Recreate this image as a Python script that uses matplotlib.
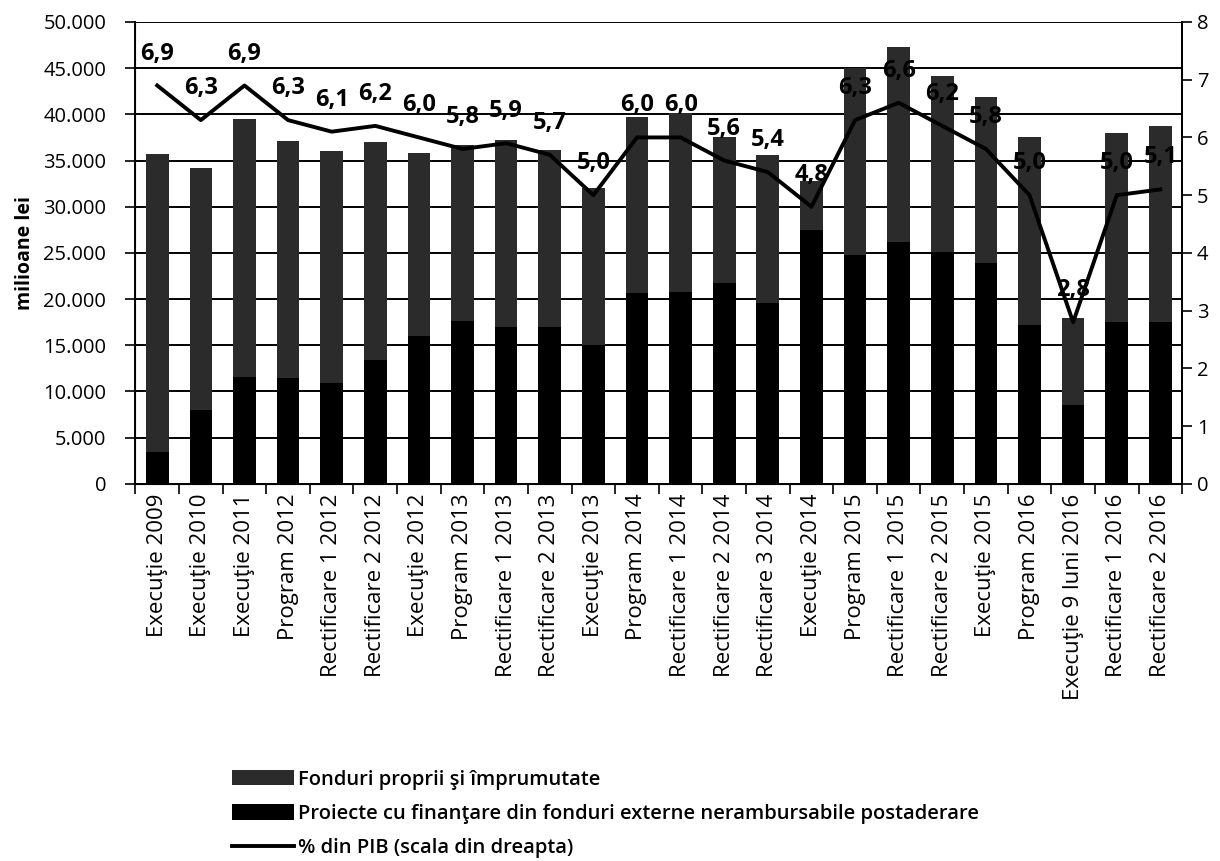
import matplotlib
matplotlib.use('Agg')
import matplotlib.pyplot as plt
from matplotlib.ticker import FuncFormatter
import numpy as np

plt.rcParams['font.family'] = ['Open Sans', 'DejaVu Sans']

categories = ['Execuţie 2009', 'Execuţie 2010', 'Execuţie 2011', 'Program 2012',
              'Rectificare 1 2012', 'Rectificare 2 2012', 'Execuţie 2012', 'Program 2013',
              'Rectificare 1 2013', 'Rectificare 2 2013', 'Execuţie 2013', 'Program 2014',
              'Rectificare 1 2014', 'Rectificare 2 2014', 'Rectificare 3 2014', 'Execuţie 2014',
              'Program 2015', 'Rectificare 1 2015', 'Rectificare 2 2015', 'Execuţie 2015',
              'Program 2016', 'Execuţie 9 luni 2016', 'Rectificare 1 2016', 'Rectificare 2 2016']

# milioane lei
proiecte_ue = [3400, 8000, 11600, 11500, 10900, 13400, 16000, 17600,
               17000, 17000, 15000, 20700, 20800, 21700, 19600, 27500,
               24800, 26200, 25100, 23900, 17200, 8500, 17500, 17500]
fonduri_proprii = [32300, 26200, 27900, 25600, 25100, 23600, 19800, 19100,
                   20200, 19100, 17000, 19000, 19300, 15900, 16000, 5300,
                   20200, 21100, 19000, 18000, 20400, 9500, 20500, 21200]
# % din PIB
pct_pib = [6.9, 6.3, 6.9, 6.3, 6.1, 6.2, 6.0, 5.8, 5.9, 5.7, 5.0, 6.0,
           6.0, 5.6, 5.4, 4.8, 6.3, 6.6, 6.2, 5.8, 5.0, 2.8, 5.0, 5.1]

x = np.arange(len(categories))

fig = plt.figure(figsize=(12.2, 8.61), dpi=100)
ax = fig.add_axes([0.111, 0.438, 0.858, 0.5365])

b1 = ax.bar(x, proiecte_ue, width=0.52, color='#000000', zorder=3,
            label='Proiecte cu finanţare din fonduri externe nerambursabile postaderare')
b2 = ax.bar(x, fonduri_proprii, width=0.52, bottom=proiecte_ue, color='#2b2b2b', zorder=3,
            label='Fonduri proprii şi împrumutate')

ax.set_xlim(-0.5, len(categories) - 0.5)
ax.set_ylim(0, 50000)
ax.set_yticks(range(0, 50001, 5000))
ax.yaxis.set_major_formatter(FuncFormatter(lambda v, p: '{:,.0f}'.format(v).replace(',', '.')))
ax.grid(axis='y', color='black', linewidth=1.4, zorder=0)
ax.set_axisbelow(True)
ax.set_xticks(x)
ax.set_xticklabels(categories, rotation=90, fontsize=16)
ax.set_xticks(np.arange(len(categories) + 1) - 0.5, minor=True)
ax.tick_params(axis='x', which='major', length=0, pad=7)
ax.tick_params(axis='x', which='minor', length=7, width=1.2, direction='out')
ax.tick_params(axis='y', labelsize=14.5, length=7, width=1.2, direction='out', pad=14)
ax.set_ylabel('milioane lei', fontsize=14, fontweight='bold', labelpad=6)
for s in ['left', 'bottom', 'right']:
    ax.spines[s].set_linewidth(1.4)
ax.spines['top'].set_visible(False)

ax2 = ax.twinx()
ln, = ax2.plot(x, pct_pib, color='black', linewidth=2.8, zorder=5,
               label='% din PIB (scala din dreapta)')
ax2.set_ylim(0, 8)
ax2.set_yticks(range(0, 9))
ax2.tick_params(axis='y', labelsize=14.5, length=7, width=1.2, direction='out')
ax2.spines['right'].set_linewidth(1.4)
ax2.spines['top'].set_visible(False)
for xi, v in zip(x, pct_pib):
    ax2.annotate('{:.1f}'.format(v).replace('.', ','), (xi, v), xytext=(0, 23),
                 textcoords='offset points', ha='center', va='center',
                 fontsize=17, fontweight='bold', zorder=6)

fig.legend([b2, b1, ln], [b2.get_label(), b1.get_label(), ln.get_label()],
           loc='upper left', bbox_to_anchor=(0.19, 0.106), frameon=False,
           prop={'size': 14.5, 'weight': 'semibold'}, handlelength=3.1, handleheight=0.8,
           handletextpad=0.2, labelspacing=0.7, borderaxespad=0, borderpad=0)

fig.savefig('out.png', dpi=100)
